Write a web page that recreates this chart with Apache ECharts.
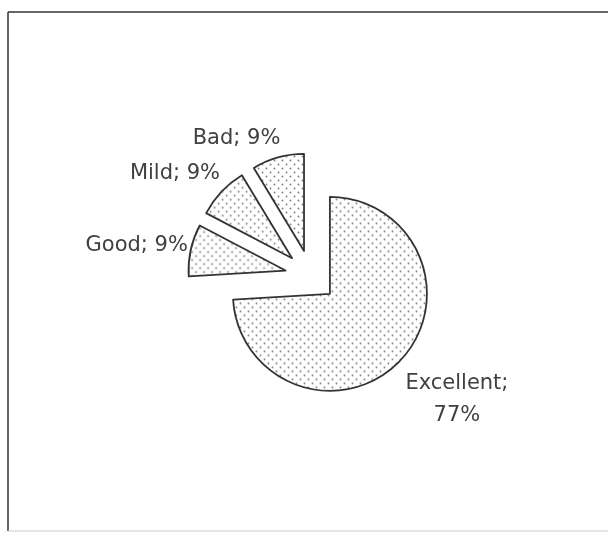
<!DOCTYPE html>
<html>
<head>
<meta charset="utf-8">
<script src="https://cdn.jsdelivr.net/npm/echarts@6/dist/echarts.min.js"></script>
<style>html,body{margin:0;padding:0;background:#fff}#c{width:608px;height:535px}</style>
</head>
<body>
<div id="c"></div>
<script>
const categories = ['Excellent', 'Good', 'Mild', 'Bad'];
const values = [77, 9, 9, 9];

function dotPattern() {
  const cv = document.createElement('canvas');
  cv.width = 8; cv.height = 8;
  const g = cv.getContext('2d');
  g.fillStyle = '#ffffff';
  g.fillRect(0, 0, 8, 8);
  g.fillStyle = '#7a7a7a';
  g.beginPath(); g.arc(1.5, 1.5, 0.9, 0, Math.PI * 2); g.fill();
  g.beginPath(); g.arc(5.5, 5.5, 0.9, 0, Math.PI * 2); g.fill();
  return cv;
}
const pat = { image: dotPattern(), repeat: 'repeat' };

// nudge each outside label from its default spot
function placeLabel(p) {
  switch (p.dataIndex) {
    case 0: return { dx: 47, dy: 35, align: 'center', hideOverlap: false };
    case 1: return { dx: 8, dy: -3, hideOverlap: false };
    case 2: return { dx: 8, dy: -14, hideOverlap: false };
    default: return { dx: 9, dy: -13, hideOverlap: false };
  }
}

const chart = echarts.init(document.getElementById('c'), null, { renderer: 'canvas' });
chart.setOption({
  backgroundColor: '#ffffff',
  animation: false,
  graphic: [
    { type: 'line', shape: { x1: 8, y1: 12, x2: 608, y2: 12 }, style: { stroke: '#333', lineWidth: 1.5 } },
    { type: 'line', shape: { x1: 8, y1: 12, x2: 8, y2: 531 }, style: { stroke: '#333', lineWidth: 1.5 } },
    { type: 'line', shape: { x1: 8, y1: 531, x2: 608, y2: 531 }, style: { stroke: '#ccc', lineWidth: 1 } }
  ],
  series: [{
    type: 'pie',
    center: [311, 276],
    radius: 97,
    startAngle: 90,
    clockwise: true,
    selectedMode: 'multiple',
    selectedOffset: 26,
    avoidLabelOverlap: false,
    itemStyle: { color: pat, borderColor: '#333', borderWidth: 1.8 },
    emphasis: { disabled: true },
    label: {
      show: true,
      position: 'outside',
      formatter: '{b}; {c}%',
      fontFamily: 'DejaVu Sans',
      fontSize: 21,
      color: '#404040',
      lineHeight: 32
    },
    labelLine: { show: false, length: 6, length2: 0 },
    labelLayout: placeLabel,
    data: categories.map((n, i) => ({
      name: n,
      value: values[i],
      selected: true,
      label: i === 0 ? { formatter: '{b};\n{c}%', align: 'center' } : undefined
    }))
  }]
});
</script>
</body>
</html>
